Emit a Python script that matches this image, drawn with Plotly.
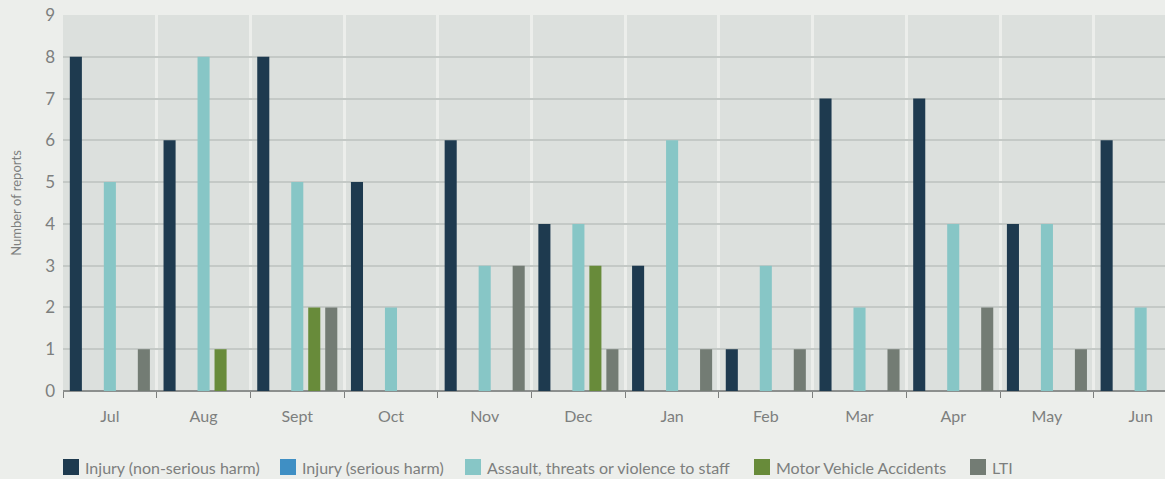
import plotly.graph_objects as go

months = ["Jul", "Aug", "Sept", "Oct", "Nov", "Dec", "Jan", "Feb", "Mar", "Apr", "May", "Jun"]

injury_non_serious = [8, 6, 8, 5, 6, 4, 3, 1, 7, 7, 4, 6]
injury_serious = [0, 0, 0, 0, 0, 0, 0, 0, 0, 0, 0, 0]
assault_staff = [5, 8, 5, 2, 3, 4, 6, 3, 2, 4, 4, 2]
motor_vehicle = [0, 1, 2, 0, 0, 3, 0, 0, 0, 0, 0, 0]
lti = [1, 0, 2, 0, 3, 1, 1, 1, 1, 2, 1, 0]

series = [
    ("Injury (non-serious harm)", injury_non_serious, "#1e3a4f"),
    ("Injury (serious harm)", injury_serious, "#3f8fc4"),
    ("Assault, threats or violence to staff", assault_staff, "#87c6c6"),
    ("Motor Vehicle Accidents", motor_vehicle, "#688b3a"),
    ("LTI", lti, "#737c74"),
]

W, H = 1165, 479
ML, MR, MT, MB = 63, 0, 15, 88
PW, PH = W - ML - MR, H - MT - MB
TEXT = "#7d7f7e"

fig = go.Figure()
for name, vals, color in series:
    fig.add_trace(go.Bar(name=name, x=months, y=vals, marker_color=color,
                         marker_line_width=0, showlegend=False))

# Legend row below the axis: a 16px swatch followed by the series name
legend_left_px = [63, 280, 465, 754, 970]
swatch_px = 16
legend_top_px = 459


def px_x(px):
    return (px - ML) / PW


def px_y(py):
    return (H - MB - py) / PH


for (name, _, color), left in zip(series, legend_left_px):
    fig.add_shape(type="rect", xref="paper", yref="paper",
                  x0=px_x(left), x1=px_x(left + swatch_px),
                  y0=px_y(legend_top_px), y1=px_y(legend_top_px + swatch_px),
                  fillcolor=color, line_width=0)
    fig.add_annotation(text=name, xref="paper", yref="paper",
                       x=px_x(left + swatch_px + 4), y=px_y(legend_top_px + swatch_px / 2),
                       xanchor="left", yanchor="middle", showarrow=False,
                       font=dict(size=16, color=TEXT))

fig.update_layout(
    width=W, height=H,
    margin=dict(l=ML, r=MR, t=MT, b=MB, autoexpand=False),
    barmode="group", bargap=0.093, bargroupgap=0.29,
    paper_bgcolor="#eceeeb", plot_bgcolor="#dce0dd",
    font=dict(family="Lato, sans-serif", color=TEXT, size=16),
    showlegend=False,
)

fig.update_xaxes(
    range=[-0.5, 11.26], tickson="boundaries",
    showgrid=True, gridcolor="#eceeeb", gridwidth=3,
    ticks="outside", ticklen=6, tickcolor="#7d7f7e", tickwidth=1,
    ticklabelstandoff=14,
    tickfont=dict(size=16, color=TEXT), showline=False,
)
fig.update_yaxes(
    range=[0, 9], dtick=1,
    showgrid=True, gridcolor="#c4c9c6", gridwidth=2,
    zeroline=True, zerolinecolor="#8c8f8e", zerolinewidth=2,
    ticklabelstandoff=7,
    tickfont=dict(size=17, color=TEXT),
    title=dict(text="Number of reports", font=dict(size=13, color=TEXT), standoff=20),
)

fig.write_html("out.html")
